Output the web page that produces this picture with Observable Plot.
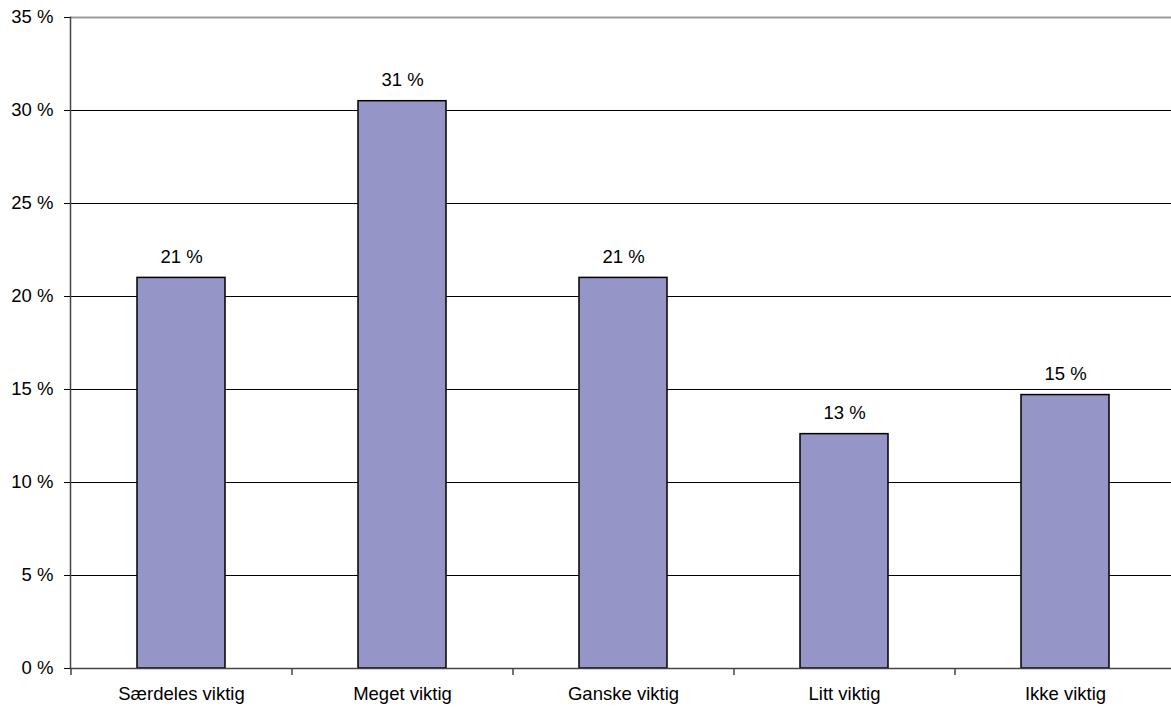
<!DOCTYPE html>
<html>
<head>
<meta charset="utf-8">
<script src="https://cdn.jsdelivr.net/npm/d3@7"></script>
<script src="https://cdn.jsdelivr.net/npm/@observablehq/plot@0.6"></script>
<style>
  html, body { margin: 0; padding: 0; background: #fff; }
  #chart svg { display: block; }
</style>
</head>
<body>
<div id="chart"></div>
<script>
const categories = ["Særdeles viktig", "Meget viktig", "Ganske viktig", "Litt viktig", "Ikke viktig"];
const values = [21.0, 30.5, 21.0, 12.6, 14.7];
const labels = ["21 %", "31 %", "21 %", "13 %", "15 %"];
const yTicks = [0, 5, 10, 15, 20, 25, 30, 35];

const data = categories.map((c, i) => ({cat: c, value: values[i], label: labels[i]}));

const W = 1171, H = 708;
const mL = 70, mR = 0, mT = 17, mB = 40;
const xStart = 70.5, xEnd = 1175.5;
const step = (xEnd - xStart) / categories.length;
const FS = 18.5;

const chart = Plot.plot({
  width: W,
  height: H,
  marginLeft: mL,
  marginRight: mR,
  marginTop: mT,
  marginBottom: mB,
  style: {fontFamily: "'Liberation Sans', Arial, sans-serif", fontSize: FS + "px", color: "#000", background: "#fff"},
  x: {domain: categories, range: [xStart, xEnd], paddingInner: 0.6, paddingOuter: 0.3, label: null},
  y: {domain: [0, 35], label: null},
  marks: [
    Plot.ruleY(yTicks.filter(d => d > 0 && d < 35), {stroke: "#000", strokeWidth: 1}),
    Plot.ruleY([35], {stroke: "#999", strokeWidth: 2}),
    Plot.barY(data, {x: "cat", y: "value", fill: "#9595C8", stroke: "#000", strokeWidth: 1.5}),
    Plot.text(data, {x: "cat", y: "value", text: "label", dy: -21, fontSize: FS, fill: "#000"}),
    Plot.axisY({ticks: yTicks, tickFormat: d => d + " %", tickSize: 6, tickPadding: 11, fontSize: FS, stroke: "#000"}),
    Plot.frame({anchor: "left", stroke: "#444", strokeWidth: 1.5}),
    Plot.ruleY([0], {stroke: "#444", strokeWidth: 1.5}),
    Plot.ruleX(categories, {x: d => d, dx: -step / 2, stroke: "#444", strokeWidth: 1.5, render: (index, scales, values, dims, context, next) => {
      const g = next(index, scales, values, dims, context);
      d3.select(g).selectAll("line").each(function() {
        this.setAttribute("y1", dims.height - dims.marginBottom);
        this.setAttribute("y2", dims.height - dims.marginBottom + 7);
      });
      return g;
    }}),
    Plot.axisX({tickSize: 0, tickPadding: 18, fontSize: FS})
  ]
});
document.getElementById("chart").appendChild(chart);
</script>
</body>
</html>
